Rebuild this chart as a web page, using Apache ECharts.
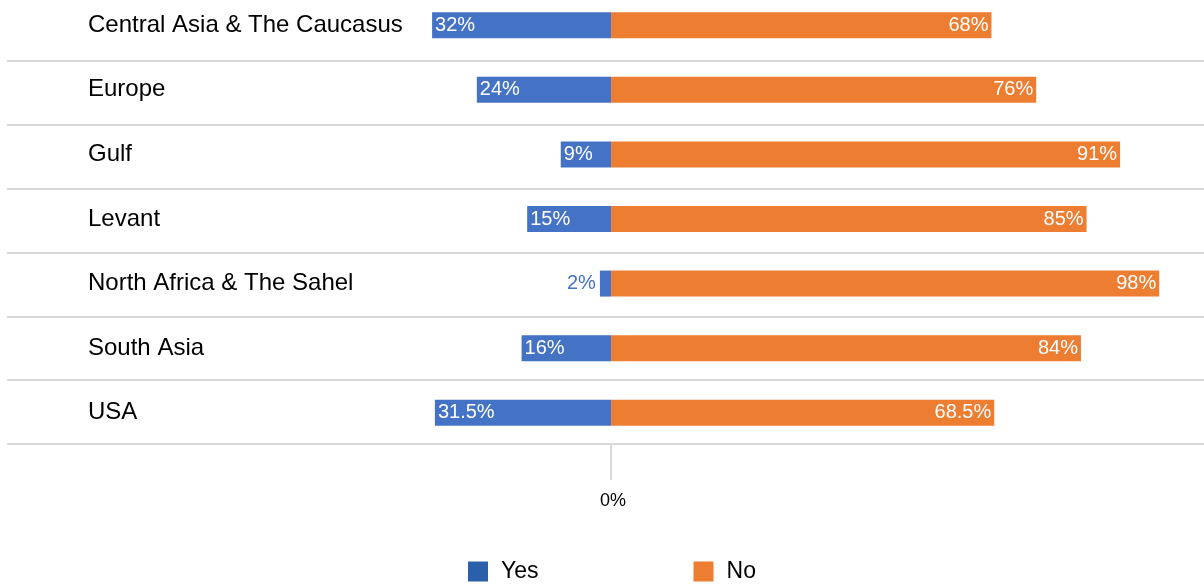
<!DOCTYPE html>
<html>
<head>
<meta charset="utf-8">
<style>
  html, body { margin: 0; padding: 0; background: #ffffff; }
  #chart { width: 1204px; height: 586px; }
</style>
<script src="https://cdn.jsdelivr.net/npm/echarts@6/dist/echarts.min.js"></script>
</head>
<body>
<div id="chart"></div>
<script>
// Share of respondents answering Yes / No, by region
const regions = [
  'Central Asia & The Caucasus',
  'Europe',
  'Gulf',
  'Levant',
  'North Africa & The Sahel',
  'South Asia',
  'USA'
];
const yesValues = [32, 24, 9, 15, 2, 16, 31.5];
const noValues = [68, 76, 91, 85, 98, 84, 68.5];
const zeroTick = [0];

const BLUE = '#4472c4';
const ORANGE = '#ed7d31';
const FONT = '"Liberation Sans", Arial, sans-serif';
const X_MIN = -108;
const X_MAX = 106;

// Yes bars extend to the left of zero; narrow bars get their label outside
const yesData = yesValues.map(v => {
  const item = { value: -v };
  if (v < 5) {
    item.label = { position: 'left', color: BLUE, distance: 4 };
  }
  return item;
});

const chart = echarts.init(document.getElementById('chart'), null, { renderer: 'canvas' });

chart.setOption({
  animation: false,
  textStyle: { fontFamily: FONT },
  // grid 0 holds the bars and region names, grid 1 the row separators and the zero tick
  grid: [
    { left: 7, right: 0, top: -7, height: 452, containLabel: false, outerBoundsMode: 'none' },
    { left: 7, right: 0, top: -3, height: 447, containLabel: false, outerBoundsMode: 'none' }
  ],
  xAxis: [
    {
      type: 'value',
      gridIndex: 0,
      min: X_MIN,
      max: X_MAX,
      show: false
    },
    {
      type: 'value',
      gridIndex: 1,
      min: X_MIN,
      max: X_MAX,
      axisLine: { show: false },
      splitLine: { show: false },
      axisTick: {
        show: true,
        customValues: zeroTick,
        length: 36,
        lineStyle: { color: '#d9d9d9', width: 2 }
      },
      axisLabel: {
        customValues: zeroTick,
        formatter: v => v + '%',
        color: '#000000',
        fontSize: 18,
        margin: 48,
        padding: [0, 0, 0, 4],
        fontFamily: FONT
      }
    }
  ],
  yAxis: [
    {
      type: 'category',
      gridIndex: 0,
      data: regions,
      inverse: true,
      axisLine: { show: false },
      axisTick: { show: false },
      splitLine: { show: false },
      axisLabel: {
        align: 'left',
        margin: -81,
        color: '#000000',
        fontSize: 24,
        padding: [0, 0, 6, 0],
        fontFamily: FONT
      }
    },
    {
      type: 'category',
      gridIndex: 1,
      data: regions,
      inverse: true,
      axisLine: { show: false },
      axisTick: { show: false },
      axisLabel: { show: false },
      splitLine: { show: true, lineStyle: { color: '#d9d9d9', width: 2 } }
    }
  ],
  legend: {
    data: [
      { name: 'Yes', itemStyle: { color: '#2a5faa' } },
      { name: 'No', itemStyle: { color: ORANGE } }
    ],
    left: 468,
    top: 560,
    padding: 0,
    icon: 'rect',
    itemWidth: 20,
    itemHeight: 20,
    itemGap: 155,
    textStyle: { fontSize: 23, color: '#000000', padding: [2, 0, 0, 8], fontFamily: FONT }
  },
  series: [
    {
      name: 'Yes',
      type: 'bar',
      xAxisIndex: 0,
      yAxisIndex: 0,
      data: yesData,
      barWidth: 26,
      barGap: '-100%',
      itemStyle: { color: BLUE },
      label: {
        show: true,
        position: 'insideLeft',
        distance: 3,
        color: '#ffffff',
        fontSize: 20,
        fontFamily: FONT,
        formatter: p => Math.abs(p.value) + '%'
      }
    },
    {
      name: 'No',
      type: 'bar',
      xAxisIndex: 0,
      yAxisIndex: 0,
      data: noValues,
      barWidth: 26,
      barGap: '-100%',
      itemStyle: { color: ORANGE },
      label: {
        show: true,
        position: 'insideRight',
        distance: 3,
        color: '#ffffff',
        fontSize: 20,
        fontFamily: FONT,
        formatter: p => p.value + '%'
      }
    }
  ]
});
</script>
</body>
</html>
